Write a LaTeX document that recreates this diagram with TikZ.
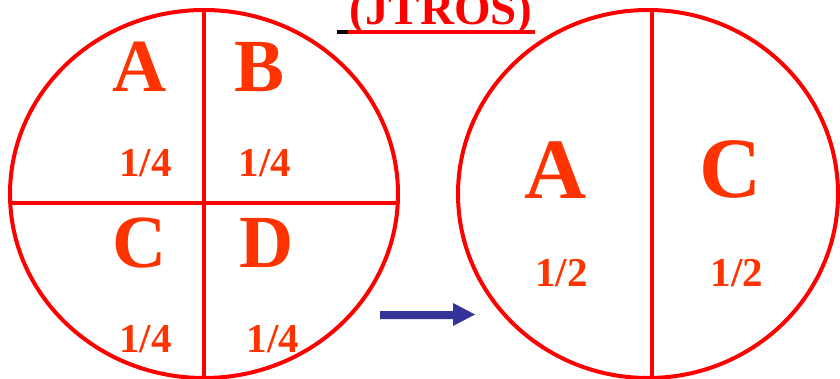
\documentclass[tikz,border=0pt]{standalone}
\usepackage{fontspec}
\setmainfont{Liberation Serif}
\definecolor{ringred}{HTML}{FF0000}
\definecolor{lettercol}{HTML}{FF3300}
\definecolor{arrowblue}{HTML}{333399}
\tikzset{
  ring/.style={draw=ringred, line width=4pt},
  divider/.style={draw=ringred, line width=4pt},
  bigletter/.style={inner sep=0pt, anchor=base, text=lettercol, font=\bfseries\fontsize{75}{75}\selectfont},
  hugeletter/.style={inner sep=0pt, anchor=base, text=lettercol, font=\bfseries\fontsize{86}{86}\selectfont},
  frac/.style={inner sep=0pt, anchor=base, text=lettercol, font=\bfseries\fontsize{41}{41}\selectfont},
  titletext/.style={inner sep=0pt, anchor=base, text=ringred, font=\bfseries\fontsize{47}{47}\selectfont}
}
\begin{document}
\begin{tikzpicture}[x=1pt,y=-1pt]
\useasboundingbox (0,0) rectangle (840,379);
\clip (0,0) rectangle (840,379);
% title
\node[titletext] (title) at (441,25) {(JTROS)};
\draw[ringred, line width=4pt] (348,32) -- (535,32);
\draw[black, line width=4pt] (337,32) -- (348,32);
% left circle
\draw[ring] (204,194) ellipse [x radius=194, y radius=184];
\coordinate (lt) at (204,10);
\coordinate (lb) at (204,380);
\coordinate (ll) at (10,203);
\coordinate (lr) at (398,203);
\draw[divider] (lt) -- (lb);
\draw[divider] (ll) -- (lr);
\node[bigletter] (A1) at (140,92) {A};
\node[bigletter] (B1) at (260,92) {B};
\node[bigletter] (C1) at (139.5,268) {C};
\node[bigletter] (D1) at (267,268) {D};
\node[frac] (fa) at (145.5,177) {1/4};
\node[frac] (fb) at (265,177) {1/4};
\node[frac] (fc) at (145.5,352) {1/4};
\node[frac] (fd) at (273,352) {1/4};
% arrow
\fill[arrowblue] (380,311) -- (453,311) -- (453,303) -- (475,314.5) -- (453,326) -- (453,319) -- (380,319) -- cycle;
% right circle
\draw[ring] (648,194) ellipse [x radius=190, y radius=184];
\coordinate (rt) at (652,10);
\coordinate (rb) at (652,380);
\draw[divider] (rt) -- (rb);
\node[hugeletter] (A2) at (556,199) {A};
\node[hugeletter] (C2) at (731,198) {C};
\node[frac] (fa2) at (561.5,286) {1/2};
\node[frac] (fc2) at (737,286) {1/2};
\end{tikzpicture}
\end{document}
